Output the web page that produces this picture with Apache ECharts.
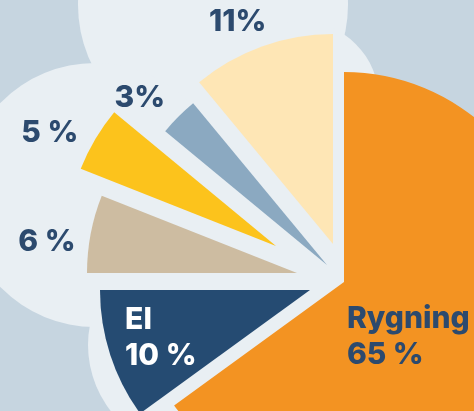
<!DOCTYPE html>
<html>
<head>
<meta charset="utf-8">
<script src="https://cdn.jsdelivr.net/npm/echarts@6/dist/echarts.min.js"></script>
<style>
  html, body { margin: 0; padding: 0; background: #c6d5e0; }
  #chart { width: 474px; height: 411px; }
</style>
</head>
<body>
<div id="chart"></div>
<script>
// slices, clockwise from 12 o'clock
var names  = ['Rygning', 'El', 'Andet 1', 'Andet 2', 'Andet 3', 'Andet 4'];
var shares = [65, 10, 6, 5, 3, 11];
var labels = ['Rygning\n65 %', 'El\n10 %', '6 %', '5 %', '3%', '11%'];

var colors = ['#f39322', '#254b72', '#cdbca1', '#fcc31c', '#8ba9c1', '#fee6b5'];
// each slice is pulled out on its own (apex of every wedge)
var apex = [[344, 282], [310, 290], [297, 273], [276, 246], [327, 265], [333, 244]];
var radius = 210;
// label placement from the apex: distance and angle nudge (deg)
var labelDist  = [55, 191, 252, 253, 251, 242];
var labelNudge = [60, 3.5, -3.7, -4, -3.2, -3.4];
var labelAlign = ['left', 'left', 'center', 'center', 'center', 'center'];

var cloud = '#e9eff3';

var chart = echarts.init(document.getElementById('chart'));

// bisector of each slice in degrees, clockwise from top
var total = shares.reduce(function (a, b) { return a + b; }, 0);
var mids = [];
var acc = 0;
shares.forEach(function (v) {
    mids.push((acc + v / 2) / total * 360);
    acc += v;
});

function polar(c, r, deg) {
    var a = deg * Math.PI / 180;
    return [c[0] + r * Math.sin(a), c[1] - r * Math.cos(a)];
}

// one pie per slice so every wedge can sit at its own spot
var series = shares.map(function (v, i) {
    var data = shares.map(function (w, j) {
        return {
            value: w,
            name: names[j],
            itemStyle: { color: j === i ? colors[j] : 'transparent', borderWidth: 0 }
        };
    });
    return {
        type: 'pie',
        center: apex[i],
        radius: [0, radius],
        startAngle: 90,
        clockwise: true,
        silent: true,
        animation: false,
        z: 2,
        label: { show: false },
        labelLine: { show: false },
        emphasis: { disabled: true },
        data: data
    };
});

// cloud behind the pie
var circles = [[213, 5, 135], [300, 100, 79], [95, 195, 132], [195, 345, 107], [300, 280, 200]];
var graphics = circles.map(function (c) {
    return { type: 'circle', z: 0, silent: true, shape: { cx: c[0], cy: c[1], r: c[2] }, style: { fill: cloud } };
});

labels.forEach(function (t, i) {
    var p = polar(apex[i], labelDist[i], mids[i] + labelNudge[i]);
    graphics.push({
        type: 'text',
        z: 10,
        silent: true,
        x: p[0],
        y: p[1],
        style: {
            text: t,
            fill: i === 1 ? '#ffffff' : '#2c4a6e',
            font: '800 30px Inter, Lato, sans-serif',
            lineHeight: 36,
            align: labelAlign[i],
            verticalAlign: 'middle'
        }
    });
});

chart.setOption({
    backgroundColor: '#c6d5e0',
    animation: false,
    graphic: { elements: graphics },
    series: series
});
</script>
</body>
</html>
